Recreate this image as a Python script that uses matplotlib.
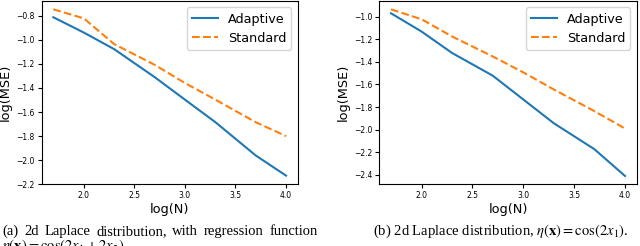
import matplotlib
matplotlib.use("Agg")
import matplotlib.pyplot as plt

log_n = [1.699, 2.0, 2.301, 2.699, 3.0, 3.301, 3.699, 4.0]

# panel (a)
adaptive_a = [-0.813, -0.94, -1.078, -1.309, -1.497, -1.684, -1.96, -2.128]
standard_a = [-0.747, -0.822, -1.036, -1.207, -1.359, -1.497, -1.684, -1.80]
# panel (b)
adaptive_b = [-0.97, -1.132, -1.322, -1.522, -1.733, -1.944, -2.173, -2.41]
standard_b = [-0.935, -1.023, -1.176, -1.352, -1.493, -1.645, -1.836, -1.99]

series_labels = ["Adaptive", "Standard"]
x_label = "log(N)"
y_label = "log(MSE)"
caption_a_line1 = "(a) 2d Laplace distribution, with regression function"
caption_a_line2 = r"$\eta(\mathbf{x}) = \cos(2x_1 + 2x_2)$."
caption_b = r"(b) 2d Laplace distribution, $\eta(\mathbf{x}) = \cos(2x_1)$."

plt.rcParams["mathtext.fontset"] = "stix"

fig = plt.figure(figsize=(6.4, 2.46), dpi=100)
W, H = 640, 246
ax1 = fig.add_axes([41.7 / W, 1 - 184.3 / H, (297.7 - 41.7) / W, (184.3 - 1) / H])
ax2 = fig.add_axes([379.3 / W, 1 - 184.3 / H, (636.7 - 379.3) / W, (184.3 - 1) / H])

for ax, ad, st in [(ax1, adaptive_a, standard_a), (ax2, adaptive_b, standard_b)]:
    ax.plot(log_n, ad, color="#1f77b4", lw=1.5, label=series_labels[0])
    ax.plot(log_n, st, color="#ff7f0e", lw=1.5, ls="--", label=series_labels[1])
    ax.set_xlabel(x_label, fontsize=9.3, labelpad=2)
    ax.set_ylabel(y_label, fontsize=9.3, labelpad=3)
    ax.tick_params(labelsize=5.5, length=3, pad=2)
    ax.legend(loc="upper right", fontsize=9.2, handlelength=2.0)
    for s in ax.spines.values():
        s.set_linewidth(0.8)

ax1.set_xticks([2.0, 2.5, 3.0, 3.5, 4.0])
ax1.set_yticks([-0.8, -1.0, -1.2, -1.4, -1.6, -1.8, -2.0, -2.2])
ax2.set_xticks([2.0, 2.5, 3.0, 3.5, 4.0])
ax2.set_yticks([-1.0, -1.2, -1.4, -1.6, -1.8, -2.0, -2.2, -2.4])

cap_font = dict(family="Liberation Serif", fontsize=10.5)

# justified first line of caption (a)
fig.canvas.draw()
renderer = fig.canvas.get_renderer()
words = caption_a_line1.split(" ")
x0, x1 = 2 / W, 318 / W
y_base1 = 1 - 235 / H
texts = [fig.text(0, y_base1, w_, va="baseline", ha="left", **cap_font) for w_ in words]
widths = [t.get_window_extent(renderer).width / W for t in texts]
gap = (x1 - x0 - sum(widths)) / (len(words) - 1)
xpos = x0
for t, wd in zip(texts, widths):
    t.set_x(xpos)
    xpos += wd + gap

# second caption line, partly cut off at the bottom edge as in the source image
fig.text(2 / W, 1 - 250 / H, caption_a_line2, va="baseline", ha="left", **cap_font)
fig.text(373 / W, y_base1, caption_b, va="baseline", ha="left", **cap_font)

fig.savefig("out.png", dpi=100)
